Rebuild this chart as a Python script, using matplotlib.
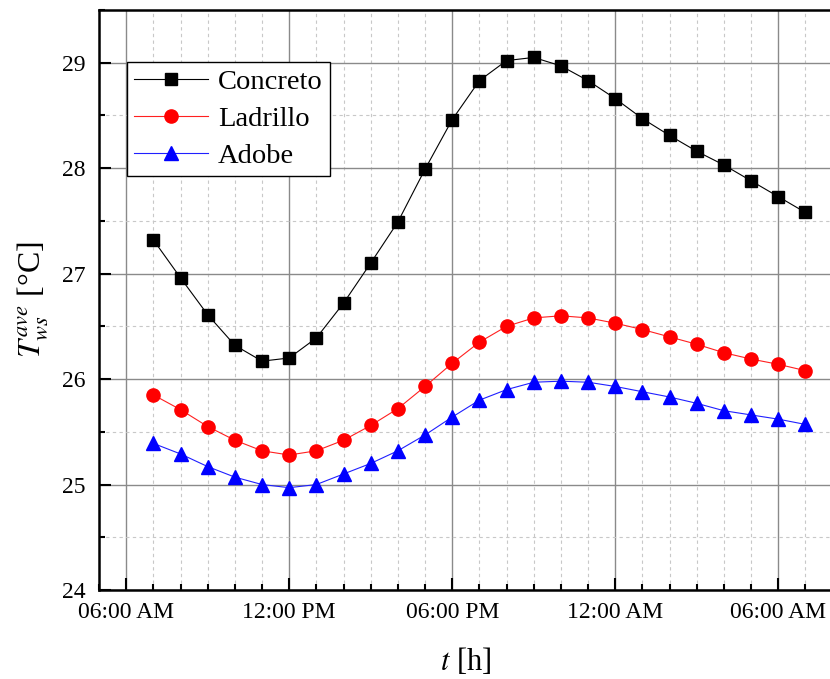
import matplotlib
matplotlib.use("Agg")
import matplotlib.pyplot as plt
from matplotlib.ticker import MultipleLocator, FixedLocator

plt.rcParams['font.family'] = ['Liberation Serif', 'DejaVu Serif']
plt.rcParams['mathtext.fontset'] = 'stix'

# hours counted from 06:00 AM of the first day
hours = [1, 2, 3, 4, 5, 6, 7, 8, 9, 10, 11, 12, 13,
         14, 15, 16, 17, 18, 19, 20, 21, 22, 23, 24, 25]

concreto = [27.32, 26.96, 26.61, 26.32, 26.17, 26.20, 26.39, 26.72, 27.10,
            27.49, 27.99, 28.46, 28.83, 29.02, 29.05, 28.97, 28.83, 28.66,
            28.47, 28.31, 28.16, 28.03, 27.88, 27.73, 27.58]
ladrillo = [25.85, 25.71, 25.55, 25.42, 25.32, 25.28, 25.32, 25.42, 25.56,
            25.72, 25.93, 26.15, 26.35, 26.50, 26.58, 26.60, 26.58, 26.53,
            26.47, 26.40, 26.33, 26.25, 26.19, 26.14, 26.08]
adobe = [25.39, 25.29, 25.17, 25.07, 25.00, 24.97, 25.00, 25.10, 25.20,
         25.32, 25.47, 25.64, 25.80, 25.90, 25.97, 25.98, 25.97, 25.93,
         25.88, 25.83, 25.77, 25.70, 25.66, 25.62, 25.57]

tick_hours = [0, 6, 12, 18, 24]
tick_labels = ['06:00 AM', '12:00 PM', '06:00 PM', '12:00 AM', '06:00 AM']

fig = plt.figure(figsize=(8.3, 6.79), dpi=100)
ax = fig.add_axes([0.1193, 0.1311, 0.8838, 0.8542])

ax.plot(hours, concreto, '-s', color='black', lw=0.8, ms=8.5, label='Concreto')
ax.plot(hours, ladrillo, '-o', color='#ff2020', mfc='red', mec='red', lw=0.8,
        ms=9.5, label='Ladrillo')
ax.plot(hours, adobe, '-^', color='#2020ff', mfc='blue', mec='blue', lw=0.8,
        ms=10, label='Adobe')

ax.set_xlim(-1, 26)
ax.set_ylim(24, 29.5)
ax.xaxis.set_major_locator(FixedLocator(tick_hours))
ax.set_xticklabels(tick_labels)
ax.xaxis.set_minor_locator(MultipleLocator(1))
ax.yaxis.set_major_locator(MultipleLocator(1))
ax.yaxis.set_minor_locator(MultipleLocator(0.5))

ax.grid(which='major', color='#8a8a8a', lw=1.0, ls='-')
ax.grid(which='minor', color='#c8c8c8', lw=0.8, ls=(0, (3, 3)))
ax.set_axisbelow(True)

ax.tick_params(which='both', direction='in', top=False, right=False,
               labelsize=17, width=1.5, color='black')
ax.tick_params(which='major', length=8.5)
ax.tick_params(which='minor', length=4.3)
ax.tick_params(axis='x', pad=9)
ax.tick_params(axis='y', pad=10)
for s in ax.spines.values():
    s.set_linewidth(1.8)

ax.set_xlabel(r'$t$ [h]', fontsize=22, labelpad=16)
ax.set_ylabel(r'$T_{ws}^{ave}$ [°C]', fontsize=23, labelpad=8)

leg = ax.legend(loc='upper left', bbox_to_anchor=(0.038, 0.91), fontsize=20.5,
                frameon=True, fancybox=False, edgecolor='black', framealpha=1,
                handlelength=2.6, labelspacing=0.38, borderpad=0.25,
                handletextpad=0.35, borderaxespad=0)
leg.get_frame().set_linewidth(1.0)

fig.savefig('out.png', dpi=100)
